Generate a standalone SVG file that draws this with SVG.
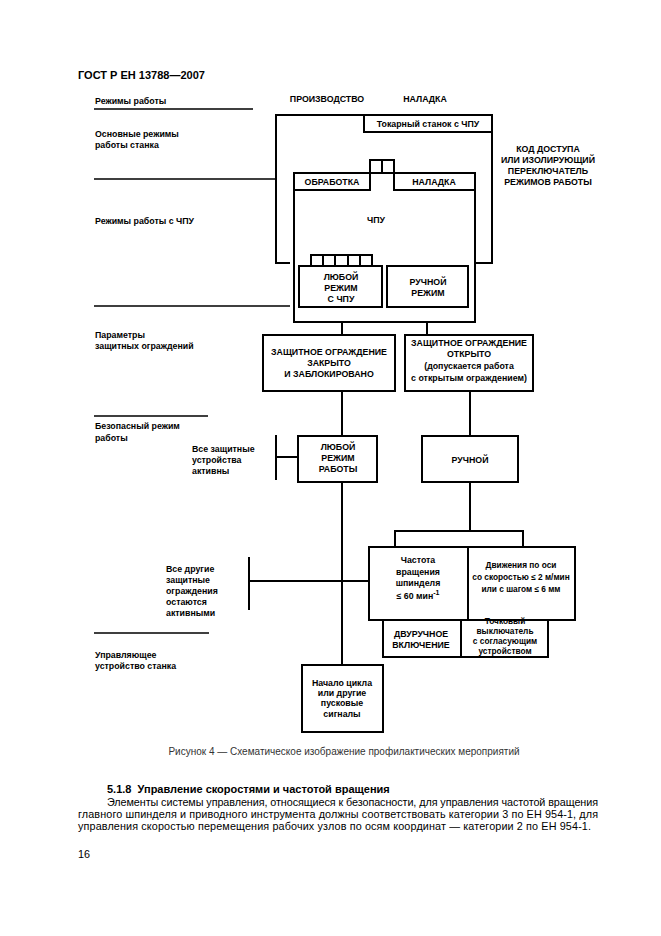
<svg xmlns="http://www.w3.org/2000/svg" width="661" height="936" viewBox="0 0 661 936">
<style>
.b{fill:#fff;stroke:#000;stroke-width:2}
.l{fill:none;stroke:#000;stroke-width:2}
.t{font-family:"Liberation Sans",Arial,sans-serif;font-size:8.8px;font-weight:bold;fill:#000;text-anchor:middle}
.s{font-family:"Liberation Sans",Arial,sans-serif;font-size:8.8px;font-weight:bold;fill:#000}
.p{font-family:"Liberation Sans",Arial,sans-serif;font-size:10.8px;fill:#000}
</style>
<rect width="661" height="936" fill="#fff"/>
<text x="78" y="79" style="font-family:'Liberation Sans',Arial,sans-serif;font-size:11px;font-weight:bold">ГОСТ Р ЕН 13788—2007</text>

<g id="left-labels">
<text class="s" x="95" y="104">Режимы работы</text>
<text class="s" x="95" y="137">Основные режимы</text>
<text class="s" x="95" y="148">работы станка</text>
<text class="s" x="95" y="224">Режимы работы с ЧПУ</text>
<text class="s" x="95" y="338">Параметры</text>
<text class="s" x="95" y="349">защитных ограждений</text>
<text class="s" x="95" y="429">Безопасный режим</text>
<text class="s" x="95" y="441">работы</text>
<text class="s" x="192" y="452">Все защитные</text>
<text class="s" x="192" y="463">устройства</text>
<text class="s" x="192" y="474">активны</text>
<text class="s" x="166" y="572">Все другие</text>
<text class="s" x="166" y="583">защитные</text>
<text class="s" x="166" y="594">ограждения</text>
<text class="s" x="166" y="605">остаются</text>
<text class="s" x="166" y="616">активными</text>
<text class="s" x="95" y="658">Управляющее</text>
<text class="s" x="95" y="669">устройство станка</text>
</g>

<g id="top-labels">
<text class="t" x="327" y="102">ПРОИЗВОДСТВО</text>
<text class="t" x="425" y="102">НАЛАДКА</text>
<text class="t" x="548" y="152">КОД ДОСТУПА</text>
<text class="t" x="548" y="163">ИЛИ ИЗОЛИРУЮЩИЙ</text>
<text class="t" x="548" y="174">ПЕРЕКЛЮЧАТЕЛЬ</text>
<text class="t" x="548" y="185">РЕЖИМОВ РАБОТЫ</text>
</g>

<g id="connectors">
<path class="l" style="stroke-width:1.5" d="M94 109H253M94 179H277M94 306H290M94 416H208M94 633H209"/>
<path class="l" d="M290 263H276V115H492V263H475"/>
<path class="l" d="M341 190V255M428 190V266"/>
<path class="l" d="M342 322V335M427 322V335"/>
<path class="l" d="M342 391V436M470 391V436"/>
<path class="l" d="M342 482V665M470 482V531"/>
<path class="l" d="M395 547V531H523V547"/>
<path class="l" d="M276 435V480M276 457H298"/>
<path class="l" d="M249 557V610M249 581H369"/>
</g>

<g id="lathe">
<rect class="b" x="364" y="115" width="128" height="17"/>
<text class="t" x="428" y="127">Токарный станок с ЧПУ</text>
</g>

<g id="cnc">
<rect class="b" x="294" y="173" width="181" height="149"/>
<rect class="b" x="294" y="173" width="76" height="17"/>
<rect class="b" x="394" y="173" width="81" height="17"/>
<rect class="b" x="370" y="160" width="12" height="13"/>
<rect class="b" x="382" y="160" width="12" height="13"/>
<text class="t" x="332" y="185">ОБРАБОТКА</text>
<text class="t" x="434" y="185">НАЛАДКА</text>
<text class="t" x="376" y="223">ЧПУ</text>
</g>

<g id="any-cnc">
<path class="b" d="M311 255H372V266H311ZM323 255V266M335 255V266M348 255V266M360 255V266"/>
<rect class="b" x="299" y="266" width="83" height="41"/>
<text class="t" x="341" y="280">ЛЮБОЙ</text>
<text class="t" x="341" y="291">РЕЖИМ</text>
<text class="t" x="341" y="302">С ЧПУ</text>
</g>

<g id="manual-cnc">
<rect class="b" x="387" y="266" width="81" height="41"/>
<text class="t" x="428" y="285">РУЧНОЙ</text>
<text class="t" x="428" y="296">РЕЖИМ</text>
</g>

<g id="guard-closed">
<rect class="b" x="263" y="335" width="132" height="56"/>
<text class="t" x="329" y="355">ЗАЩИТНОЕ ОГРАЖДЕНИЕ</text>
<text class="t" x="329" y="366">ЗАКРЫТО</text>
<text class="t" x="329" y="377">И ЗАБЛОКИРОВАНО</text>
</g>

<g id="guard-open">
<rect class="b" x="405" y="335" width="128" height="56"/>
<text class="t" x="469" y="346">ЗАЩИТНОЕ ОГРАЖДЕНИЕ</text>
<text class="t" x="469" y="357">ОТКРЫТО</text>
<text class="t" x="469" y="369">(допускается работа</text>
<text class="t" x="469" y="381">с открытым ограждением)</text>
</g>

<g id="any-mode">
<rect class="b" x="298" y="436" width="79" height="46"/>
<text class="t" x="338" y="450">ЛЮБОЙ</text>
<text class="t" x="338" y="461">РЕЖИМ</text>
<text class="t" x="338" y="472">РАБОТЫ</text>
</g>

<g id="manual">
<rect class="b" x="422" y="436" width="96" height="46"/>
<text class="t" x="470" y="463">РУЧНОЙ</text>
</g>

<g id="limits">
<rect class="b" x="369" y="547" width="206" height="73"/>
<path class="l" d="M468 547V620"/>
<text class="t" x="418" y="563">Частота</text>
<text class="t" x="418" y="575">вращения</text>
<text class="t" x="418" y="586">шпинделя</text>
<text class="t" x="418" y="599">≤ 60 мин<tspan dy="-4" font-size="7">-1</tspan></text>
<text class="t" x="521" y="568" style="font-size:8.3px">Движения по оси</text>
<text class="t" x="521" y="580" style="font-size:8.3px">со скоростью ≤ 2 м/мин</text>
<text class="t" x="521" y="592" style="font-size:8.3px">или с шагом ≤ 6 мм</text>
</g>

<g id="two-hand">
<rect class="b" x="383" y="620" width="78" height="37"/>
<text class="t" x="421" y="637">ДВУРУЧНОЕ</text>
<text class="t" x="421" y="648">ВКЛЮЧЕНИЕ</text>
</g>

<g id="jog">
<rect class="b" x="461" y="620" width="87" height="37"/>
<text class="t" x="505" y="624" style="font-size:8.3px">Точковый</text>
<text class="t" x="505" y="634" style="font-size:8.3px">выключатель</text>
<text class="t" x="505" y="644" style="font-size:8.3px">с согласующим</text>
<text class="t" x="505" y="654" style="font-size:8.3px">устройством</text>
</g>

<g id="start">
<rect class="b" x="302" y="665" width="81" height="67"/>
<text class="t" x="342" y="686">Начало цикла</text>
<text class="t" x="342" y="696">или другие</text>
<text class="t" x="342" y="706">пусковые</text>
<text class="t" x="342" y="717">сигналы</text>
</g>

<text x="344" y="755" text-anchor="middle" style="font-family:'Liberation Sans',Arial,sans-serif;font-size:10px;fill:#333">Рисунок 4 — Схематическое изображение профилактических мероприятий</text>
<text x="107" y="793" xml:space="preserve" style="font-family:'Liberation Sans',Arial,sans-serif;font-size:11px;font-weight:bold">5.1.8  Управление скоростями и частотой вращения</text>
<text class="p" x="107" y="806" textLength="491" lengthAdjust="spacing">Элементы системы управления, относящиеся к безопасности, для управления частотой вращения</text>
<text class="p" x="78" y="818" textLength="520" lengthAdjust="spacing">главного шпинделя и приводного инструмента должны соответствовать категории 3 по ЕН 954-1, для</text>
<text class="p" x="78" y="830" textLength="513" lengthAdjust="spacing">управления скоростью перемещения рабочих узлов по осям координат — категории 2 по ЕН 954-1.</text>
<text class="p" x="78" y="858">16</text>
</svg>
